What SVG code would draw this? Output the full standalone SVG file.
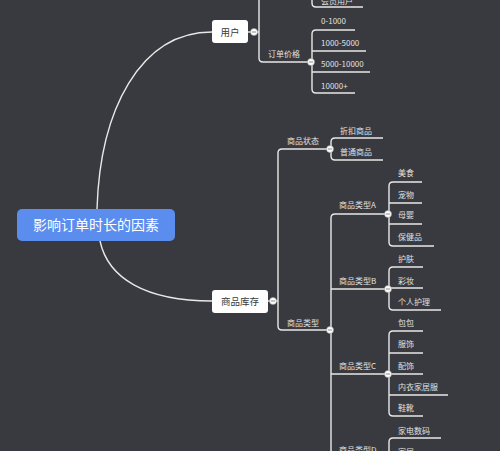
<svg xmlns="http://www.w3.org/2000/svg" width="500" height="451" viewBox="0 0 500 451">
<style>
.bg{fill:#393a3f}
.ln{fill:none;stroke:#e8e8e8;stroke-width:1.4}
.t{font-family:"Noto Sans CJK SC","Noto Sans",sans-serif;font-size:8px;fill:#e0e0e0}
.nt{font-family:"Noto Sans CJK SC","Noto Sans",sans-serif;font-size:9.5px;fill:#3a3a3a;text-anchor:middle}
.box{fill:#ffffff}
.col circle{fill:#ffffff;stroke:#9a9a9a;stroke-width:0.6}
.col path{stroke:#888;stroke-width:1}
</style>
<rect class="bg" x="0" y="0" width="500" height="451"/>
<g id="connectors" class="ln">
<path d="M97,209 C100,110 140,32 212,32"/>
<path d="M100,241 C108,278 145,301 212,301"/>
<path d="M248,32 H259"/>
<path d="M259,-5 V58 Q259,62 263,62 H311"/>
<path d="M312,-5 V3 Q312,7 316,7 H363"/>
<path d="M355,30 H316 Q312,30 312,34 V89 Q312,93 316,93 H355"/>
<path d="M312,51 H366"/>
<path d="M312,72 H370"/>
<path d="M268,301 H278"/>
<path d="M330,149 H282 Q278,149 278,153 V326 Q278,330 282,330 H330"/>
<path d="M383,138 H335 Q331,138 331,142 V156 Q331,160 335,160 H383"/>
<path d="M388,214 H335 Q331,214 331,218 V460"/>
<path d="M331,289 H388"/>
<path d="M331,374 H388"/>
<path d="M422,182 H393 Q389,182 389,186 V242 Q389,246 393,246 H434"/>
<path d="M389,203 H422"/>
<path d="M389,224 H422"/>
<path d="M423,267 H393 Q389,267 389,271 V306 Q389,310 393,310 H441"/>
<path d="M389,288 H423"/>
<path d="M423,331 H393 Q389,331 389,335 V412 Q389,416 393,416 H423"/>
<path d="M389,353 H423"/>
<path d="M389,374 H423"/>
<path d="M389,395 H448"/>
<path d="M441,438 H393 Q389,438 389,442 V460"/>
</g>
<g id="collapse" class="col">
<g><circle cx="254" cy="32" r="3.5"/><path d="M252,32 H256"/></g>
<g><circle cx="311" cy="62" r="3.5"/><path d="M309,62 H313"/></g>
<g><circle cx="273" cy="301" r="3.5"/><path d="M271,301 H275"/></g>
<g><circle cx="330" cy="149" r="3.5"/><path d="M328,149 H332"/></g>
<g><circle cx="330" cy="330" r="3.5"/><path d="M328,330 H332"/></g>
<g><circle cx="388" cy="214" r="3.5"/><path d="M386,214 H390"/></g>
<g><circle cx="388" cy="289" r="3.5"/><path d="M386,289 H390"/></g>
<g><circle cx="388" cy="374" r="3.5"/><path d="M386,374 H390"/></g>
</g>
<g id="root">
<rect x="17" y="209" width="158" height="32" rx="5" fill="#5b8def"/>
<text x="96" y="230" font-family="Noto Sans CJK SC, sans-serif" font-size="14" fill="#ffffff" text-anchor="middle">影响订单时长的因素</text>
</g>
<g id="node-user"><rect class="box" x="212" y="20" width="36" height="23" rx="3"/><text class="nt" x="230" y="35.5">用户</text></g>
<g id="node-stock"><rect class="box" x="212" y="290" width="56" height="23" rx="3"/><text class="nt" x="240" y="304.5">商品库存</text></g>
<g id="node-member"><text class="t" x="321" y="4">会员用户</text></g>
<g id="node-price"><text class="t" x="268" y="57">订单价格</text></g>
<g id="node-p1"><text class="t" x="321" y="24">0-1000</text></g>
<g id="node-p2"><text class="t" x="321" y="46">1000-5000</text></g>
<g id="node-p3"><text class="t" x="321" y="67">5000-10000</text></g>
<g id="node-p4"><text class="t" x="321" y="89">10000+</text></g>
<g id="node-status"><text class="t" x="287" y="144">商品状态</text></g>
<g id="node-type"><text class="t" x="287" y="326">商品类型</text></g>
<g id="node-s1"><text class="t" x="340" y="134">折扣商品</text></g>
<g id="node-s2"><text class="t" x="340" y="155">普通商品</text></g>
<g id="node-ta"><text class="t" x="339" y="208">商品类型A</text></g>
<g id="node-tb"><text class="t" x="339" y="284">商品类型B</text></g>
<g id="node-tc"><text class="t" x="339" y="369">商品类型C</text></g>
<g id="node-td"><text class="t" x="339" y="453">商品类型D</text></g>
<g id="node-a1"><text class="t" x="398" y="176">美食</text></g>
<g id="node-a2"><text class="t" x="398" y="198">宠物</text></g>
<g id="node-a3"><text class="t" x="398" y="218">母婴</text></g>
<g id="node-a4"><text class="t" x="398" y="240">保健品</text></g>
<g id="node-b1"><text class="t" x="398" y="262">护肤</text></g>
<g id="node-b2"><text class="t" x="398" y="284">彩妆</text></g>
<g id="node-b3"><text class="t" x="398" y="305">个人护理</text></g>
<g id="node-c1"><text class="t" x="398" y="326">包包</text></g>
<g id="node-c2"><text class="t" x="398" y="347">服饰</text></g>
<g id="node-c3"><text class="t" x="398" y="369">配饰</text></g>
<g id="node-c4"><text class="t" x="398" y="390">内衣家居服</text></g>
<g id="node-c5"><text class="t" x="398" y="411">鞋靴</text></g>
<g id="node-d1"><text class="t" x="398" y="434">家电数码</text></g>
<g id="node-d2"><text class="t" x="398" y="455">家居</text></g>
</svg>
